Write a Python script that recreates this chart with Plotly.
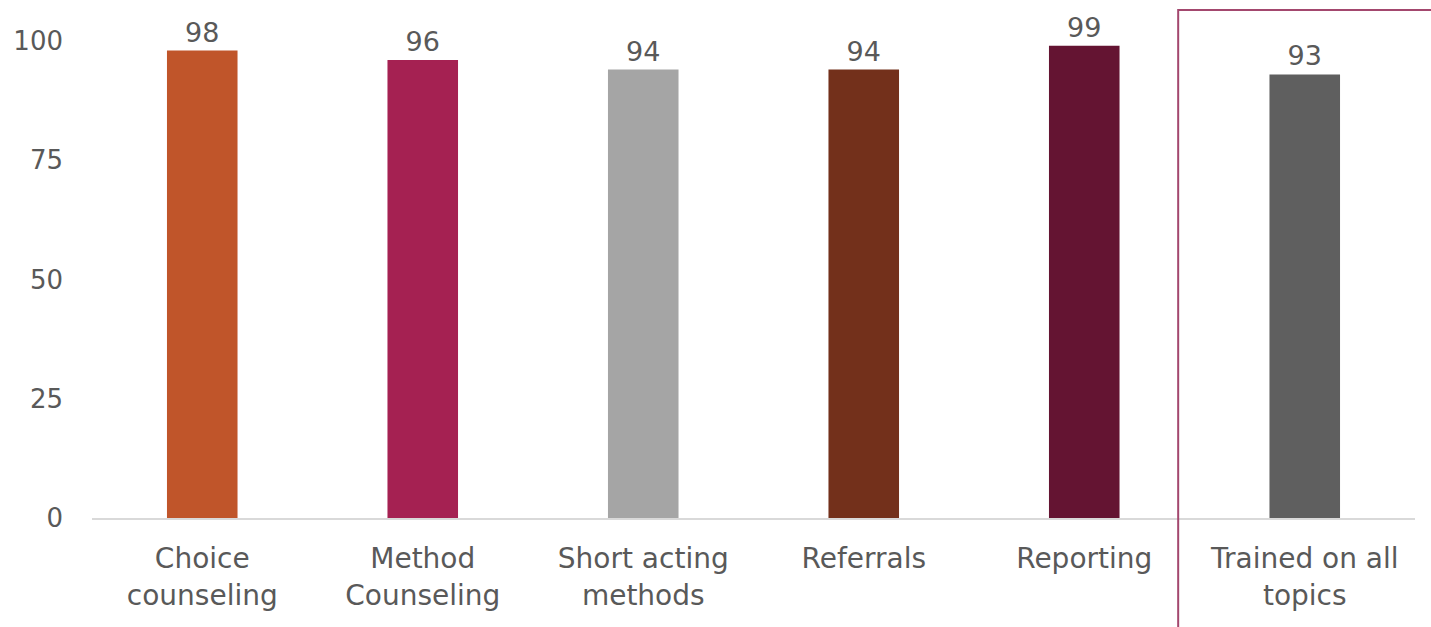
import plotly.graph_objects as go

# Share of respondents trained, by topic (%)
categories = ["Choice<br>counseling", "Method<br>Counseling", "Short acting<br>methods",
              "Referrals", "Reporting", "Trained on all<br>topics"]
values = [98, 96, 94, 94, 99, 93]
bar_colors = ["#C0552A", "#A52152", "#A5A5A5", "#73301B", "#641432", "#5F5F5F"]
y_ticks = [0, 25, 50, 75, 100]

FONT = "DejaVu Sans"
TEXT = "#595959"

fig = go.Figure(
    go.Bar(
        x=categories,
        y=values,
        marker=dict(color=bar_colors, line=dict(width=0)),
        width=0.32,
        text=[str(v) for v in values],
        textposition="outside",
        textfont=dict(family=FONT, size=27, color=TEXT),
        cliponaxis=False,
    )
)

fig.update_layout(
    width=1431,
    height=627,
    margin=dict(l=92, r=16, t=41, b=109),
    paper_bgcolor="white",
    plot_bgcolor="white",
    showlegend=False,
    bargap=0.68,
    font=dict(family=FONT, size=26, color=TEXT),
)

fig.update_yaxes(
    range=[0, 100],
    tickvals=y_ticks,
    showgrid=False,
    zeroline=False,
    showline=False,
    ticks="",
    ticklabelstandoff=28,
    tickfont=dict(family=FONT, size=26, color=TEXT),
)

fig.update_xaxes(
    showline=True,
    linecolor="#D9D9D9",
    linewidth=1.5,
    ticks="",
    ticklabelstandoff=15,
    tickfont=dict(family=FONT, size=28, color=TEXT),
)

# Frame highlighting the overall "all topics" column
fig.add_shape(
    type="rect",
    xref="paper", yref="paper",
    x0=0.821, x1=1.05, y0=-0.3, y1=1.065,
    line=dict(color="#A3476E", width=2),
    fillcolor="rgba(0,0,0,0)",
    layer="above",
)

fig.write_html("out.html")
